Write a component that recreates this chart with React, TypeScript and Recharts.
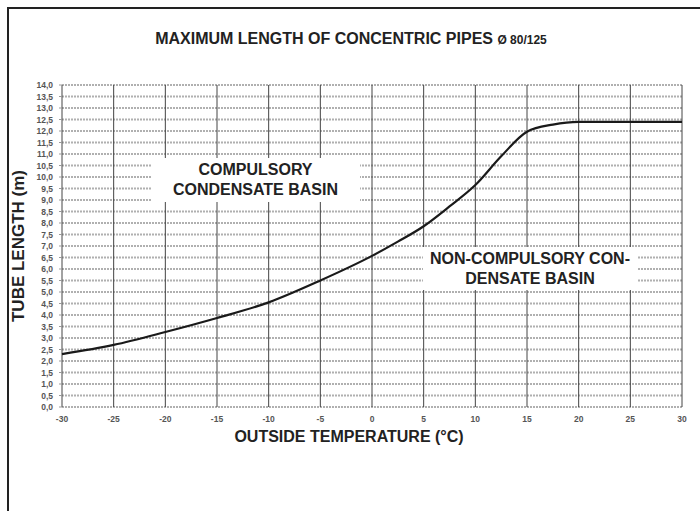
import { LineChart, Line, XAxis, YAxis, CartesianGrid } from 'recharts'

const TEMPS = [-30, -25, -20, -15, -10, -5, 0, 2.5, 5, 7.5, 10, 12.5, 15, 17.5, 20, 25, 30]
const LENGTHS = [2.3, 2.7, 3.26, 3.87, 4.55, 5.5, 6.57, 7.19, 7.86, 8.72, 9.65, 10.9, 11.97, 12.28, 12.4, 12.4, 12.4]
const X_TICKS = [-30, -25, -20, -15, -10, -5, 0, 5, 10, 15, 20, 25, 30]
const Y_TICKS = [0, 0.5, 1, 1.5, 2, 2.5, 3, 3.5, 4, 4.5, 5, 5.5, 6, 6.5, 7, 7.5, 8, 8.5, 9, 9.5, 10, 10.5, 11, 11.5, 12, 12.5, 13, 13.5, 14]

const data = TEMPS.map((t, i) => ({ t, len: LENGTHS[i] }))

const FONT = '"Liberation Sans", Arial, sans-serif'

const tickStyle = { fill: '#555', fontSize: 8.5, fontWeight: 700, fontFamily: FONT }

const boxStyle: React.CSSProperties = {
  position: 'absolute',
  background: '#fff',
  fontFamily: FONT,
  fontWeight: 700,
  fontSize: 16,
  lineHeight: '20px',
  color: '#222',
  textAlign: 'center',
  display: 'flex',
  alignItems: 'center',
  justifyContent: 'center',
}

export default function App() {
  return (
    <div style={{ position: 'absolute', left: 0, top: 0, width: 700, height: 511, background: '#fff', overflow: 'hidden' }}>
      <div style={{ position: 'absolute', left: 7, top: 7, width: 720, height: 540, borderLeft: '2px solid #222', borderTop: '2px solid #222' }} />
      <div style={{ position: 'absolute', left: 0, top: 30, width: 702, textAlign: 'center', fontFamily: FONT, fontWeight: 700, fontSize: 16, color: '#222' }}>
        MAXIMUM LENGTH OF CONCENTRIC PIPES <span style={{ fontSize: 12 }}>Ø 80/125</span>
      </div>
      <div style={{ position: 'absolute', left: 0, top: 0 }}>
        <LineChart width={700} height={511} data={data} margin={{ top: 85, right: 18, bottom: 74, left: 12 }}>
          <CartesianGrid horizontal={true} vertical={false} stroke="#b0b0b0" strokeWidth={2} strokeDasharray="2 1" />
          <CartesianGrid horizontal={false} vertical={true} stroke="#444" strokeWidth={1} />
          <XAxis
            dataKey="t"
            type="number"
            domain={[-30, 30]}
            ticks={X_TICKS}
            axisLine={false}
            tickLine={false}
            tickSize={0}
            tickMargin={9}
            height={30}
            tick={tickStyle}
            interval={0}
          />
          <YAxis
            type="number"
            domain={[0, 14]}
            ticks={Y_TICKS}
            axisLine={false}
            tickLine={{ stroke: '#999' }}
            tickSize={3}
            tickMargin={6}
            width={50}
            tick={tickStyle}
            interval={0}
            tickFormatter={(v: number) => v.toFixed(1).replace('.', ',')}
          />
          <Line dataKey="len" type="monotone" stroke="#1a1a1a" strokeWidth={2.2} dot={false} isAnimationActive={false} />
        </LineChart>
      </div>
      <div style={{ ...boxStyle, left: 151, top: 158, width: 209, height: 44 }}>
        COMPULSORY<br />CONDENSATE BASIN
      </div>
      <div style={{ ...boxStyle, left: 423, top: 247, width: 214, height: 43 }}>
        NON-COMPULSORY CON-<br />DENSATE BASIN
      </div>
      <div style={{ position: 'absolute', left: 0, top: 428, width: 698, textAlign: 'center', fontFamily: FONT, fontWeight: 700, fontSize: 16, color: '#222' }}>
        OUTSIDE TEMPERATURE (°C)
      </div>
      <div style={{ position: 'absolute', left: 19, top: 246, transform: 'translate(-50%, -50%) rotate(-90deg)', whiteSpace: 'nowrap', fontFamily: FONT, fontWeight: 700, fontSize: 17, color: '#222' }}>
        TUBE LENGTH (m)
      </div>
    </div>
  )
}
